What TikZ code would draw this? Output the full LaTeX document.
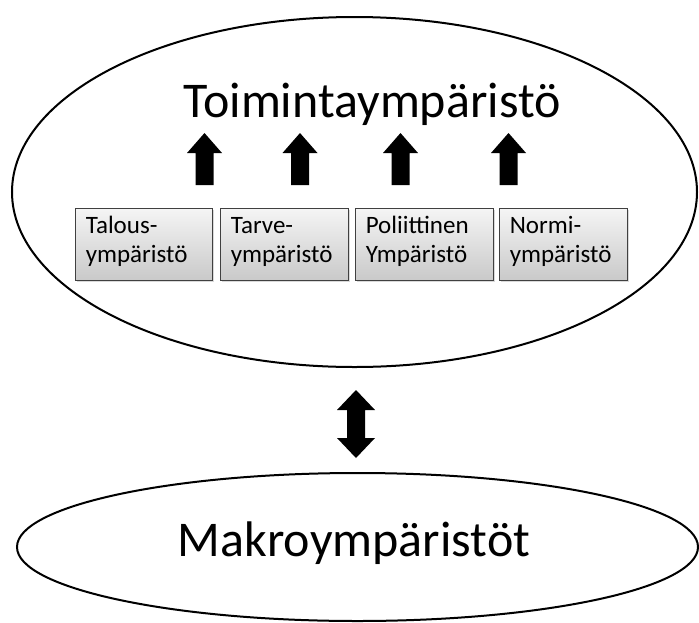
\documentclass[tikz,border=0pt]{standalone}
\usepackage{fontspec}
\setmainfont{Carlito}
\usetikzlibrary{shapes.geometric,shadows}
\begin{document}
\begin{tikzpicture}[x=1pt,y=-1pt,
  oval/.style={draw=black, line width=2pt, ellipse, inner sep=0pt},
  envbox/.style={rectangle, draw=black!75, line width=0.8pt, top color=gray!8, bottom color=gray!42,
    drop shadow={shadow xshift=2pt,shadow yshift=-2pt,opacity=0.3}, inner sep=0pt, minimum height=72pt},
  boxtext/.style={anchor=north west, font=\fontsize{25}{29}\selectfont, align=left, inner sep=0pt},
  bigtext/.style={font=\fontsize{50}{60}\selectfont, anchor=base, inner sep=0pt},
  uparrow/.pic={\fill[black] (0,0) -- (17.5,20) -- (9,20) -- (9,52) -- (-9,52) -- (-9,20) -- (-17.5,20) -- cycle;},
  botharrow/.pic={\fill[black] (0,0) -- (19,20) -- (9,20) -- (9,48) -- (19,48) -- (0,68) -- (-19,48) -- (-9,48) -- (-9,20) -- (-19,20) -- cycle;}
]
\useasboundingbox (0,0) rectangle (699,622);

% ellipses
\node[oval, minimum width=685pt, minimum height=350pt] (toim) at (354.5,192) {};
\node[oval, minimum width=681pt, minimum height=148pt] (makroell) at (357.5,547) {};

% titles
\node[bigtext] (title) at (372,117) {Toimintaympäristö};
\node[bigtext] (makro) at (354,556) {Makroympäristöt};

% boxes
\node[envbox, minimum width=137pt] (b1) at (143.5,244) {};
\node[envbox, minimum width=128pt] (b2) at (284,244) {};
\node[envbox, minimum width=138pt] (b3) at (424,244) {};
\node[envbox, minimum width=128pt] (b4) at (563,244) {};

\node[boxtext] (t1) at ([xshift=11pt,yshift=-8.3pt]b1.north west) {\vphantom{l}Talous-\\ympäristö};
\node[boxtext] (t2) at ([xshift=11pt,yshift=-8.3pt]b2.north west) {\vphantom{l}Tarve-\\ympäristö};
\node[boxtext] (t3) at ([xshift=11pt,yshift=-8.3pt]b3.north west) {\vphantom{l}Poliittinen\\Ympäristö};
\node[boxtext] (t4) at ([xshift=11pt,yshift=-8.3pt]b4.north west) {\vphantom{l}Normi-\\ympäristö};

% up arrows
\pic at (204.5,133) {uparrow};
\pic at (300,133) {uparrow};
\pic at (400.5,133) {uparrow};
\pic at (508.5,133) {uparrow};

% double arrow between the ellipses
\coordinate (link) at (356,390);
\pic at (link) {botharrow};
\end{tikzpicture}
\end{document}
